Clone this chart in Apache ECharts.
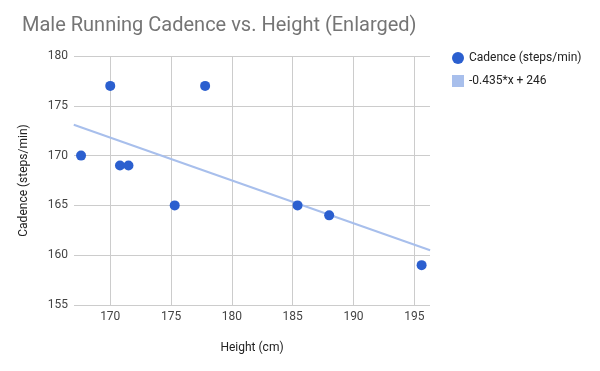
<!DOCTYPE html>
<html>
<head>
<meta charset="utf-8">
<script src="https://cdn.jsdelivr.net/npm/echarts@6/dist/echarts.min.js"></script>
<style>html,body{margin:0;padding:0;background:#fff}#c{width:600px;height:371px}</style>
</head>
<body>
<div id="c"></div>
<script>
var titleText = 'Male Running Cadence vs. Height (Enlarged)';
var heights = [167.6, 170.0, 170.8, 171.5, 175.3, 177.8, 185.4, 188.0, 195.6];
var cadence = [170, 177, 169, 169, 165, 177, 165, 164, 159];
var trendX = [167.0, 196.3];
var trendY = [173.1, 160.5];
var xTicks = [170, 175, 180, 185, 190, 195];
var yTicks = [155, 160, 165, 170, 175, 180];
var seriesNames = ['Cadence (steps/min)', '-0.435*x + 246'];
var xName = 'Height (cm)';
var yName = 'Cadence (steps/min)';

var points = heights.map(function (h, i) { return [h, cadence[i]]; });
var trend = trendX.map(function (x, i) { return [x, trendY[i]]; });

var chart = echarts.init(document.getElementById('c'), null, {renderer: 'canvas'});
chart.setOption({
  animation: false,
  backgroundColor: '#fff',
  textStyle: {fontFamily: 'Roboto'},
  title: {
    text: titleText, left: 17, top: 11,
    textStyle: {fontFamily: 'Roboto', fontSize: 20, fontWeight: 'normal', color: '#757575'}
  },
  legend: {
    orient: 'vertical', left: 447, top: 47, itemGap: 11,
    itemWidth: 12, itemHeight: 12,
    textStyle: {fontFamily: 'Roboto', fontSize: 12, color: '#222'},
    data: [
      {name: seriesNames[0], icon: 'circle'},
      {name: seriesNames[1], icon: 'rect', itemStyle: {color: '#a8bfec'}}
    ]
  },
  grid: {left: 74, right: 170, top: 56, bottom: 66, containLabel: false},
  xAxis: {
    type: 'value', min: 167.02, max: 196.29,
    name: xName, nameLocation: 'middle', nameGap: 37,
    nameTextStyle: {fontFamily: 'Roboto', fontSize: 12, color: '#222'},
    axisLine: {show: false}, axisTick: {show: false, customValues: xTicks},
    axisLabel: {customValues: xTicks, color: '#444', fontSize: 12, margin: 6},
    splitLine: {show: true, lineStyle: {color: '#cccccc', width: 1}}
  },
  yAxis: {
    type: 'value', min: 155, max: 180, interval: 5,
    name: yName, nameLocation: 'middle', nameGap: 44,
    nameTextStyle: {fontFamily: 'Roboto', fontSize: 12, color: '#222'},
    axisLine: {show: false}, axisTick: {show: false},
    axisLabel: {color: '#444', fontSize: 12, margin: 6},
    splitLine: {show: true, lineStyle: {color: '#cccccc', width: 1}}
  },
  series: [
    {
      name: seriesNames[1], type: 'line', data: trend, symbol: 'none',
      lineStyle: {color: '#a8bfec', width: 2}, itemStyle: {color: '#a8bfec'},
      z: 1
    },
    {
      name: seriesNames[0], type: 'scatter', data: points, symbolSize: 10,
      itemStyle: {color: '#2b5fcf', opacity: 1}, z: 3
    }
  ]
});
</script>
</body>
</html>
